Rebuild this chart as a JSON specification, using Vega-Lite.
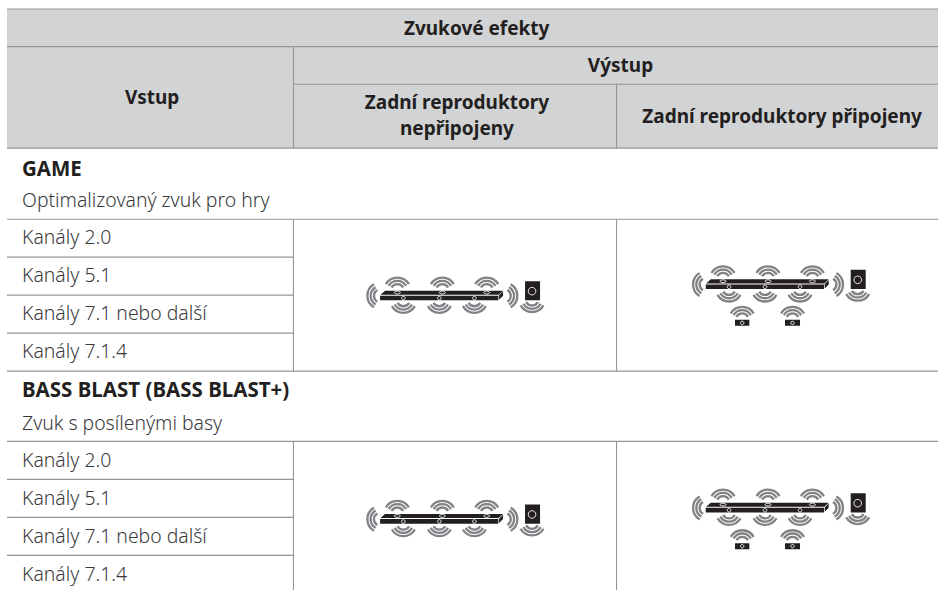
{
"$schema":"https://vega.github.io/schema/vega-lite/v6.json",
"width":938,"height":590,"padding":0,"autosize":{"type":"none"},
"background":"#ffffff",
"config":{"view":{"stroke":null}},
"datasets":{
"fills":[{"c0":0,"c1":100,"r0":0,"r1":3.7}],
"hlines":[
{"c0":0,"c1":100,"r":0},{"c0":0,"c1":100,"r":1},{"c0":30.77,"c1":100,"r":2},{"c0":0,"c1":100,"r":3.7},
{"c0":0,"c1":100,"r":5.59},{"c0":0,"c1":30.77,"r":6.6},{"c0":0,"c1":30.77,"r":7.61},{"c0":0,"c1":30.77,"r":8.62},{"c0":0,"c1":100,"r":9.63},
{"c0":0,"c1":100,"r":11.5},{"c0":0,"c1":30.77,"r":12.51},{"c0":0,"c1":30.77,"r":13.52},{"c0":0,"c1":30.77,"r":14.53}],
"vlines":[
{"c":30.77,"r0":1,"r1":3.7},{"c":65.47,"r0":2,"r1":3.7},
{"c":30.77,"r0":5.59,"r1":9.63},{"c":65.47,"r0":5.59,"r1":9.63},
{"c":30.77,"r0":11.5,"r1":15.46},{"c":65.47,"r0":11.5,"r1":15.46}],
"headers":[
{"label":"Zvukové efekty","c":50.45,"r":0.52},
{"label":"Výstup","c":65.9,"r":1.52},
{"label":"Vstup","c":15.6,"r":2.36},
{"label":"Zadní reproduktory","c":48.33,"r":2.5},
{"label":"nepřipojeny","c":48.33,"r":3.2},
{"label":"Zadní reproduktory připojeny","c":83.25,"r":2.87}],
"groups":[{"label":"GAME","c":1.61,"r":4.28},{"label":"BASS BLAST (BASS BLAST+)","c":1.61,"r":10.16}],
"cells":[
{"label":"Optimalizovaný zvuk pro hry","c":1.61,"r":5.1},
{"label":"Kanály 2.0","c":1.61,"r":6.1},
{"label":"Kanály 5.1","c":1.61,"r":7.1},
{"label":"Kanály 7.1 nebo další","c":1.61,"r":8.12},
{"label":"Kanály 7.1.4","c":1.61,"r":9.12},
{"label":"Zvuk s posílenými basy","c":1.61,"r":11.04},
{"label":"Kanály 2.0","c":1.61,"r":12.02},
{"label":"Kanály 5.1","c":1.61,"r":13.03},
{"label":"Kanály 7.1 nebo další","c":1.61,"r":14.04},
{"label":"Kanály 7.1.4","c":1.61,"r":15.05}],
"icons":[
{"icon":"A","c":40.07,"r":7.61},
{"icon":"B","c":75.05,"r":7.31},
{"icon":"A","c":40.07,"r":13.55},
{"icon":"B","c":75.05,"r":13.25}]
},
"layer":[
{"data":{"name":"fills"},"mark":{"type":"rect","fill":"#D1D3D4"},
 "encoding":{"x":{"field":"c0","type":"quantitative","scale":{"domain":[-0.752,100],"range":[0,938],"nice":false,"zero":false},"axis":null},"x2":{"field":"c1"},
 "y":{"field":"r0","type":"quantitative","scale":{"domain":[-0.239,15.452],"range":[0,590],"nice":false,"zero":false},"axis":null},"y2":{"field":"r1"}}},
{"data":{"name":"hlines"},"mark":{"type":"rule","stroke":"#939598","strokeWidth":1.1},
 "encoding":{"x":{"field":"c0","type":"quantitative"},"x2":{"field":"c1"},"y":{"field":"r","type":"quantitative"}}},
{"data":{"name":"vlines"},"mark":{"type":"rule","stroke":"#939598","strokeWidth":1.1},
 "encoding":{"x":{"field":"c","type":"quantitative"},"y":{"field":"r0","type":"quantitative"},"y2":{"field":"r1"}}},
{"data":{"name":"headers"},"mark":{"type":"text","font":"Noto Sans","fontSize":19,"fontWeight":"bold","fill":"#231F20","align":"center","baseline":"middle"},
 "encoding":{"x":{"field":"c","type":"quantitative"},"y":{"field":"r","type":"quantitative"},"text":{"field":"label"}}},
{"data":{"name":"groups"},"mark":{"type":"text","font":"Noto Sans","fontSize":20.5,"fontWeight":"bold","fill":"#231F20","align":"left","baseline":"middle"},
 "encoding":{"x":{"field":"c","type":"quantitative"},"y":{"field":"r","type":"quantitative"},"text":{"field":"label"}}},
{"data":{"name":"cells"},"mark":{"type":"text","font":"Noto Sans","fontSize":19.4,"fontWeight":300,"fill":"#3a3a3c","align":"left","baseline":"middle"},
 "encoding":{"x":{"field":"c","type":"quantitative"},"y":{"field":"r","type":"quantitative"},"text":{"field":"label"}}},
{"data":{"name":"icons"},"mark":{"type":"point","filled":false,"stroke":"#808285","strokeWidth":2.3,"size":4,"opacity":1},
 "encoding":{"x":{"field":"c","type":"quantitative"},"y":{"field":"r","type":"quantitative"},
 "shape":{"field":"icon","type":"nominal","legend":null,"scale":{"domain":["A","B"],"range":[
 "M5.8 -10.95A13.3 13.3 0 0 1 28.8 -10.95M8.64 -9.3A10 10 0 0 1 25.96 -9.3M11.5 -7.65A6.7 6.7 0 0 1 23.1 -7.65M50.8 -10.95A13.3 13.3 0 0 1 73.8 -10.95M53.64 -9.3A10 10 0 0 1 70.96 -9.3M56.5 -7.65A6.7 6.7 0 0 1 68.1 -7.65M95.2 -10.95A13.3 13.3 0 0 1 118.2 -10.95M98.04 -9.3A10 10 0 0 1 115.36 -9.3M100.9 -7.65A6.7 6.7 0 0 1 112.5 -7.65M11.8 11.05A13.3 13.3 0 0 0 34.8 11.05M14.64 9.4A10 10 0 0 0 31.96 9.4M17.5 7.75A6.7 6.7 0 0 0 29.1 7.75M47.8 11.05A13.3 13.3 0 0 0 70.8 11.05M50.64 9.4A10 10 0 0 0 67.96 9.4M53.5 7.75A6.7 6.7 0 0 0 65.1 7.75M82.8 11.05A13.3 13.3 0 0 0 105.8 11.05M85.64 9.4A10 10 0 0 0 102.96 9.4M88.5 7.75A6.7 6.7 0 0 0 100.1 7.75M-6.05 -10.8A13.3 13.3 0 0 0 -6.05 12.2M-4.4 -7.96A10 10 0 0 0 -4.4 9.36M-2.75 -5.1A6.7 6.7 0 0 0 -2.75 6.5M130.65 -10.8A13.3 13.3 0 0 1 130.65 12.2M129 -7.96A10 10 0 0 1 129 9.36M127.35 -5.1A6.7 6.7 0 0 1 127.35 6.5M140.5 10.25A13.3 13.3 0 0 0 163.5 10.25M143.34 8.6A10 10 0 0 0 160.66 8.6M146.2 6.95A6.7 6.7 0 0 0 157.8 6.95",
 "M5.8 -10.95A13.3 13.3 0 0 1 28.8 -10.95M8.64 -9.3A10 10 0 0 1 25.96 -9.3M11.5 -7.65A6.7 6.7 0 0 1 23.1 -7.65M50.8 -10.95A13.3 13.3 0 0 1 73.8 -10.95M53.64 -9.3A10 10 0 0 1 70.96 -9.3M56.5 -7.65A6.7 6.7 0 0 1 68.1 -7.65M95.2 -10.95A13.3 13.3 0 0 1 118.2 -10.95M98.04 -9.3A10 10 0 0 1 115.36 -9.3M100.9 -7.65A6.7 6.7 0 0 1 112.5 -7.65M11.8 11.05A13.3 13.3 0 0 0 34.8 11.05M14.64 9.4A10 10 0 0 0 31.96 9.4M17.5 7.75A6.7 6.7 0 0 0 29.1 7.75M47.8 11.05A13.3 13.3 0 0 0 70.8 11.05M50.64 9.4A10 10 0 0 0 67.96 9.4M53.5 7.75A6.7 6.7 0 0 0 65.1 7.75M82.8 11.05A13.3 13.3 0 0 0 105.8 11.05M85.64 9.4A10 10 0 0 0 102.96 9.4M88.5 7.75A6.7 6.7 0 0 0 100.1 7.75M-6.05 -10.8A13.3 13.3 0 0 0 -6.05 12.2M-4.4 -7.96A10 10 0 0 0 -4.4 9.36M-2.75 -5.1A6.7 6.7 0 0 0 -2.75 6.5M130.65 -10.8A13.3 13.3 0 0 1 130.65 12.2M129 -7.96A10 10 0 0 1 129 9.36M127.35 -5.1A6.7 6.7 0 0 1 127.35 6.5M140.5 10.25A13.3 13.3 0 0 0 163.5 10.25M143.34 8.6A10 10 0 0 0 160.66 8.6M146.2 6.95A6.7 6.7 0 0 0 157.8 6.95M25 29.65A13.3 13.3 0 0 1 48 29.65M27.84 31.3A10 10 0 0 1 45.16 31.3M30.7 32.95A6.7 6.7 0 0 1 42.3 32.95M75.3 29.65A13.3 13.3 0 0 1 98.3 29.65M78.14 31.3A10 10 0 0 1 95.46 31.3M81 32.95A6.7 6.7 0 0 1 92.6 32.95"
 ]}}}},
{"data":{"name":"icons"},"mark":{"type":"point","filled":true,"fill":"#231F20","stroke":null,"size":4,"opacity":1},
 "encoding":{"x":{"field":"c","type":"quantitative"},"y":{"field":"r","type":"quantitative"},
 "shape":{"field":"icon","type":"nominal","legend":null,"scale":{"domain":["A","B"],"range":[
 "M0 0.6H118.3V5.2H0ZM5 -4.5H123L118.6 -0.4H0.4ZM119 0.2L123 -3.8V0.6L119 4.6ZM145 -14H160V5.2H145Z",
 "M0 0.6H118.3V5.2H0ZM5 -4.5H123L118.6 -0.4H0.4ZM119 0.2L123 -3.8V0.6L119 4.6ZM145 -14H160V5.2H145ZM29.3 36H43.6V42H29.3ZM79.3 36H94.3V42H79.3Z"
 ]}}}},
{"data":{"name":"icons"},"mark":{"type":"point","filled":false,"stroke":"#ffffff","strokeWidth":0.9,"size":4,"opacity":1},
 "encoding":{"x":{"field":"c","type":"quantitative"},"y":{"field":"r","type":"quantitative"},
 "shape":{"field":"icon","type":"nominal","legend":null,"scale":{"domain":["A","B"],"range":[
 "M14.3 -2.6a3 1.4 0 1 0 6 0a3 1.4 0 1 0 -6 0M59.3 -2.6a3 1.4 0 1 0 6 0a3 1.4 0 1 0 -6 0M103.7 -2.6a3 1.4 0 1 0 6 0a3 1.4 0 1 0 -6 0M21.5 3a1.8 1.8 0 1 0 3.6 0a1.8 1.8 0 1 0 -3.6 0M57.5 3a1.8 1.8 0 1 0 3.6 0a1.8 1.8 0 1 0 -3.6 0M92.5 3a1.8 1.8 0 1 0 3.6 0a1.8 1.8 0 1 0 -3.6 0M148.2 -4a3.8 3.8 0 1 0 7.6 0a3.8 3.8 0 1 0 -7.6 0",
 "M14.3 -2.6a3 1.4 0 1 0 6 0a3 1.4 0 1 0 -6 0M59.3 -2.6a3 1.4 0 1 0 6 0a3 1.4 0 1 0 -6 0M103.7 -2.6a3 1.4 0 1 0 6 0a3 1.4 0 1 0 -6 0M21.5 3a1.8 1.8 0 1 0 3.6 0a1.8 1.8 0 1 0 -3.6 0M57.5 3a1.8 1.8 0 1 0 3.6 0a1.8 1.8 0 1 0 -3.6 0M92.5 3a1.8 1.8 0 1 0 3.6 0a1.8 1.8 0 1 0 -3.6 0M148.2 -4a3.8 3.8 0 1 0 7.6 0a3.8 3.8 0 1 0 -7.6 0M34.8 39a1.7 1.7 0 1 0 3.4 0a1.7 1.7 0 1 0 -3.4 0M85.1 39a1.7 1.7 0 1 0 3.4 0a1.7 1.7 0 1 0 -3.4 0"
 ]}}}}
],
"resolve":{"scale":{"shape":"independent"}}
}
